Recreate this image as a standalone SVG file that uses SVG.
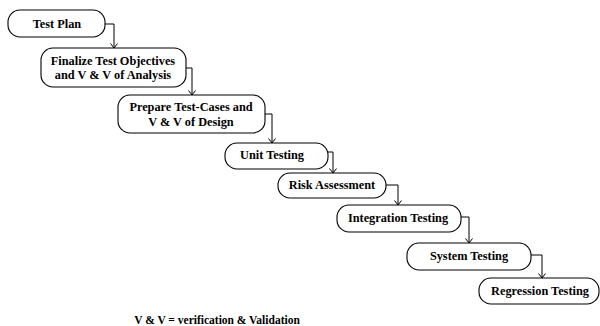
<svg xmlns="http://www.w3.org/2000/svg" width="600" height="326" viewBox="0 0 600 326">
<defs>
<marker id="arr" markerWidth="8" markerHeight="8" refX="4" refY="7" orient="0" markerUnits="userSpaceOnUse">
<path d="M0.5,2.5 L4,7 L7.5,2.5" fill="none" stroke="#000" stroke-width="1"/>
</marker>
<style>
.box{fill:#fff;stroke:#000;stroke-width:1.1}
.t{font-family:"Liberation Serif","Times New Roman",serif;font-weight:bold;font-size:12.3px;fill:#000;text-anchor:middle}
.f{font-size:11.5px}
.c{fill:none;stroke:#000;stroke-width:1}
</style>
</defs>
<rect width="600" height="326" fill="#fff"/>
<g id="connectors">
<path class="c" d="M105,24 H114 V48" marker-end="url(#arr)"/>
<path class="c" d="M186,68 H192 V95" marker-end="url(#arr)"/>
<path class="c" d="M265,114 H272 V143" marker-end="url(#arr)"/>
<path class="c" d="M328,152 H333 V173" marker-end="url(#arr)"/>
<path class="c" d="M386,185 H398 V205" marker-end="url(#arr)"/>
<path class="c" d="M461,217 H469 V243" marker-end="url(#arr)"/>
<path class="c" d="M531,255 H542 V278" marker-end="url(#arr)"/>
</g>
<g id="n1"><rect class="box" x="8" y="10" width="97" height="27" rx="12"/><text class="t" x="57" y="28">Test Plan</text></g>
<g id="n2"><rect class="box" x="41" y="48" width="145" height="39" rx="12"/><text class="t" x="113" y="65">Finalize Test Objectives</text><text class="t" x="113" y="79">and V &amp; V of Analysis</text></g>
<g id="n3"><rect class="box" x="118" y="95" width="147" height="38" rx="12"/><text class="t" x="191" y="111">Prepare Test-Cases and</text><text class="t" x="191" y="126">V &amp; V of Design</text></g>
<g id="n4"><rect class="box" x="225" y="143" width="103" height="26" rx="12"/><text class="t" x="272" y="159">Unit Testing</text></g>
<g id="n5"><rect class="box" x="278" y="173" width="108" height="25" rx="12"/><text class="t" x="332" y="189">Risk Assessment</text></g>
<g id="n6"><rect class="box" x="337" y="205" width="124" height="27" rx="12"/><text class="t" x="398" y="222">Integration Testing</text></g>
<g id="n7"><rect class="box" x="407" y="243" width="124" height="27" rx="12"/><text class="t" x="469" y="260">System Testing</text></g>
<g id="n8"><rect class="box" x="479" y="278" width="120" height="26" rx="12"/><text class="t" x="540" y="295">Regression Testing</text></g>
<text class="t f" x="217" y="324">V &amp; V = verification &amp; Validation</text>
</svg>
